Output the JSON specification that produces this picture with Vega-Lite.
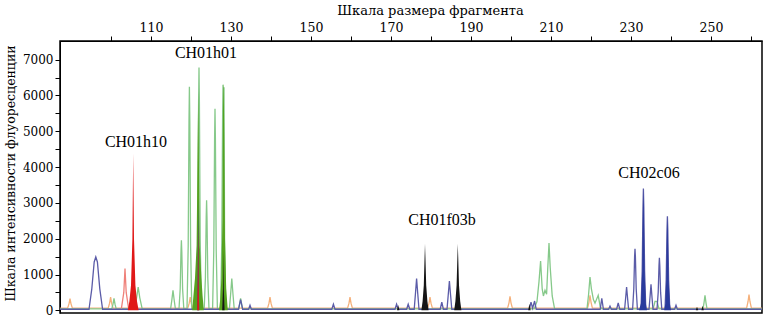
{
  "$schema": "https://vega.github.io/schema/vega-lite/v6.json",
  "width": 702,
  "height": 272,
  "autosize": {"type": "none"},
  "padding": {"left": 60, "top": 41, "right": 6, "bottom": 6},
  "background": "white",
  "config": {
    "view": {"stroke": "#000", "strokeWidth": 1.5},
    "axis": {"grid": false, "domainColor": "#000", "tickColor": "#000", "labelColor": "#000", "titleColor": "#000", "tickSize": 5}
  },
  "data": {"values": [
    {"d": "orange", "x": 87.3, "y": 60},
    {"d": "orange", "x": 89.15, "y": 60}, {"d": "orange", "x": 89.5, "y": 180}, {"d": "orange", "x": 89.75, "y": 325}, {"d": "orange", "x": 90.0, "y": 180}, {"d": "orange", "x": 90.35, "y": 60},
    {"d": "orange", "x": 99.3, "y": 60}, {"d": "orange", "x": 99.65, "y": 200}, {"d": "orange", "x": 99.9, "y": 370}, {"d": "orange", "x": 100.15, "y": 200}, {"d": "orange", "x": 100.5, "y": 60},
    {"d": "orange", "x": 119.2, "y": 60}, {"d": "orange", "x": 119.55, "y": 200}, {"d": "orange", "x": 119.8, "y": 370}, {"d": "orange", "x": 120.05, "y": 200}, {"d": "orange", "x": 120.4, "y": 60},
    {"d": "orange", "x": 139.15, "y": 60}, {"d": "orange", "x": 139.5, "y": 200}, {"d": "orange", "x": 139.75, "y": 370}, {"d": "orange", "x": 140.0, "y": 200}, {"d": "orange", "x": 140.35, "y": 60},
    {"d": "orange", "x": 159.15, "y": 60}, {"d": "orange", "x": 159.5, "y": 200}, {"d": "orange", "x": 159.75, "y": 370}, {"d": "orange", "x": 160.0, "y": 200}, {"d": "orange", "x": 160.35, "y": 60},
    {"d": "orange", "x": 179.15, "y": 60}, {"d": "orange", "x": 179.5, "y": 200}, {"d": "orange", "x": 179.75, "y": 370}, {"d": "orange", "x": 180.0, "y": 200}, {"d": "orange", "x": 180.35, "y": 60},
    {"d": "orange", "x": 199.15, "y": 60}, {"d": "orange", "x": 199.5, "y": 210}, {"d": "orange", "x": 199.75, "y": 390}, {"d": "orange", "x": 200.0, "y": 210}, {"d": "orange", "x": 200.35, "y": 60},
    {"d": "orange", "x": 219.15, "y": 60}, {"d": "orange", "x": 219.5, "y": 230}, {"d": "orange", "x": 219.75, "y": 420}, {"d": "orange", "x": 220.0, "y": 230}, {"d": "orange", "x": 220.35, "y": 60},
    {"d": "orange", "x": 258.9, "y": 60}, {"d": "orange", "x": 259.25, "y": 240}, {"d": "orange", "x": 259.5, "y": 440}, {"d": "orange", "x": 259.75, "y": 240}, {"d": "orange", "x": 260.1, "y": 60},
    {"d": "orange", "x": 262.7, "y": 60},

    {"d": "green", "x": 87.3, "y": 40},
    {"d": "green", "x": 100.2, "y": 40}, {"d": "green", "x": 100.5, "y": 170}, {"d": "green", "x": 100.75, "y": 335}, {"d": "green", "x": 101.0, "y": 170}, {"d": "green", "x": 101.3, "y": 40},
    {"d": "green", "x": 105.9, "y": 40}, {"d": "green", "x": 106.4, "y": 350}, {"d": "green", "x": 106.8, "y": 650}, {"d": "green", "x": 107.2, "y": 350}, {"d": "green", "x": 107.8, "y": 40},
    {"d": "green", "x": 114.9, "y": 40}, {"d": "green", "x": 115.2, "y": 280}, {"d": "green", "x": 115.5, "y": 560}, {"d": "green", "x": 115.8, "y": 280}, {"d": "green", "x": 116.1, "y": 40},
    {"d": "green", "x": 117.0, "y": 40}, {"d": "green", "x": 117.3, "y": 600}, {"d": "green", "x": 117.5, "y": 1650}, {"d": "green", "x": 117.6, "y": 1955}, {"d": "green", "x": 117.7, "y": 1650}, {"d": "green", "x": 117.9, "y": 600}, {"d": "green", "x": 118.2, "y": 40},
    {"d": "green", "x": 119.0, "y": 40}, {"d": "green", "x": 119.3, "y": 1800}, {"d": "green", "x": 119.5, "y": 5300}, {"d": "green", "x": 119.6, "y": 6240}, {"d": "green", "x": 119.7, "y": 5300}, {"d": "green", "x": 119.9, "y": 1800}, {"d": "green", "x": 120.2, "y": 40},
    {"d": "green", "x": 121.4, "y": 40}, {"d": "green", "x": 121.7, "y": 1950}, {"d": "green", "x": 121.9, "y": 5800}, {"d": "green", "x": 122.0, "y": 6780}, {"d": "green", "x": 122.1, "y": 5800}, {"d": "green", "x": 122.3, "y": 1950}, {"d": "green", "x": 122.6, "y": 40},
    {"d": "green", "x": 123.3, "y": 40}, {"d": "green", "x": 123.6, "y": 900}, {"d": "green", "x": 123.8, "y": 2600}, {"d": "green", "x": 123.9, "y": 3070}, {"d": "green", "x": 124.0, "y": 2600}, {"d": "green", "x": 124.2, "y": 900}, {"d": "green", "x": 124.5, "y": 40},
    {"d": "green", "x": 125.4, "y": 40}, {"d": "green", "x": 125.7, "y": 1700}, {"d": "green", "x": 125.9, "y": 4800}, {"d": "green", "x": 126.0, "y": 5630}, {"d": "green", "x": 126.1, "y": 4800}, {"d": "green", "x": 126.3, "y": 1700}, {"d": "green", "x": 126.6, "y": 40},
    {"d": "green", "x": 127.4, "y": 40}, {"d": "green", "x": 127.7, "y": 1900}, {"d": "green", "x": 127.9, "y": 5400}, {"d": "green", "x": 128.0, "y": 6300}, {"d": "green", "x": 128.15, "y": 5600}, {"d": "green", "x": 128.25, "y": 6230}, {"d": "green", "x": 128.4, "y": 1900}, {"d": "green", "x": 128.7, "y": 40},
    {"d": "green", "x": 129.6, "y": 40}, {"d": "green", "x": 129.9, "y": 440}, {"d": "green", "x": 130.2, "y": 885}, {"d": "green", "x": 130.5, "y": 440}, {"d": "green", "x": 130.8, "y": 40},
    {"d": "green", "x": 131.9, "y": 40}, {"d": "green", "x": 132.15, "y": 170}, {"d": "green", "x": 132.4, "y": 335}, {"d": "green", "x": 132.65, "y": 170}, {"d": "green", "x": 132.9, "y": 40},
    {"d": "green", "x": 205.8, "y": 40}, {"d": "green", "x": 206.5, "y": 250}, {"d": "green", "x": 207.0, "y": 800}, {"d": "green", "x": 207.4, "y": 1375}, {"d": "green", "x": 207.8, "y": 600}, {"d": "green", "x": 208.1, "y": 400}, {"d": "green", "x": 208.5, "y": 560}, {"d": "green", "x": 208.9, "y": 450}, {"d": "green", "x": 209.2, "y": 1200}, {"d": "green", "x": 209.5, "y": 1880}, {"d": "green", "x": 209.8, "y": 1200}, {"d": "green", "x": 210.3, "y": 400}, {"d": "green", "x": 210.9, "y": 40},
    {"d": "green", "x": 219.0, "y": 40}, {"d": "green", "x": 219.4, "y": 450}, {"d": "green", "x": 219.75, "y": 930}, {"d": "green", "x": 220.1, "y": 600}, {"d": "green", "x": 220.6, "y": 300}, {"d": "green", "x": 221.0, "y": 200}, {"d": "green", "x": 221.8, "y": 420}, {"d": "green", "x": 222.3, "y": 100}, {"d": "green", "x": 222.7, "y": 40},
    {"d": "green", "x": 235.5, "y": 40}, {"d": "green", "x": 235.8, "y": 150}, {"d": "green", "x": 236.0, "y": 250}, {"d": "green", "x": 236.5, "y": 250}, {"d": "green", "x": 237.0, "y": 40},
    {"d": "green", "x": 248.0, "y": 40}, {"d": "green", "x": 248.25, "y": 210}, {"d": "green", "x": 248.5, "y": 420}, {"d": "green", "x": 248.75, "y": 210}, {"d": "green", "x": 249.0, "y": 40},
    {"d": "green", "x": 262.7, "y": 40},

    {"d": "blue", "x": 87.3, "y": 30},
    {"d": "blue", "x": 94.5, "y": 30}, {"d": "blue", "x": 95.2, "y": 600}, {"d": "blue", "x": 95.8, "y": 1350}, {"d": "blue", "x": 96.2, "y": 1490}, {"d": "blue", "x": 96.6, "y": 1350}, {"d": "blue", "x": 97.2, "y": 600}, {"d": "blue", "x": 97.9, "y": 30},
    {"d": "blue", "x": 131.9, "y": 30}, {"d": "blue", "x": 132.15, "y": 170}, {"d": "blue", "x": 132.4, "y": 300}, {"d": "blue", "x": 132.65, "y": 170}, {"d": "blue", "x": 132.9, "y": 30},
    {"d": "blue", "x": 134.4, "y": 30}, {"d": "blue", "x": 134.75, "y": 140}, {"d": "blue", "x": 135.1, "y": 30},
    {"d": "blue", "x": 155.2, "y": 30}, {"d": "blue", "x": 155.6, "y": 170}, {"d": "blue", "x": 156.0, "y": 30},
    {"d": "blue", "x": 171.0, "y": 30}, {"d": "blue", "x": 171.4, "y": 170}, {"d": "blue", "x": 171.8, "y": 30},
    {"d": "blue", "x": 173.9, "y": 30}, {"d": "blue", "x": 174.3, "y": 170}, {"d": "blue", "x": 174.7, "y": 30},
    {"d": "blue", "x": 175.8, "y": 30}, {"d": "blue", "x": 176.1, "y": 450}, {"d": "blue", "x": 176.4, "y": 885}, {"d": "blue", "x": 176.7, "y": 450}, {"d": "blue", "x": 177.0, "y": 30},
    {"d": "blue", "x": 182.3, "y": 30}, {"d": "blue", "x": 182.7, "y": 230}, {"d": "blue", "x": 183.1, "y": 30},
    {"d": "blue", "x": 184.0, "y": 30}, {"d": "blue", "x": 184.3, "y": 420}, {"d": "blue", "x": 184.6, "y": 820}, {"d": "blue", "x": 184.9, "y": 420}, {"d": "blue", "x": 185.2, "y": 30},
    {"d": "blue", "x": 204.6, "y": 30}, {"d": "blue", "x": 205.0, "y": 230}, {"d": "blue", "x": 205.4, "y": 60}, {"d": "blue", "x": 205.9, "y": 260}, {"d": "blue", "x": 206.3, "y": 30},
    {"d": "blue", "x": 222.3, "y": 30}, {"d": "blue", "x": 222.7, "y": 335}, {"d": "blue", "x": 223.1, "y": 30},
    {"d": "blue", "x": 224.4, "y": 30}, {"d": "blue", "x": 224.75, "y": 120}, {"d": "blue", "x": 225.1, "y": 30},
    {"d": "blue", "x": 226.4, "y": 30}, {"d": "blue", "x": 226.8, "y": 205}, {"d": "blue", "x": 227.2, "y": 30},
    {"d": "blue", "x": 228.4, "y": 30}, {"d": "blue", "x": 228.65, "y": 330}, {"d": "blue", "x": 228.9, "y": 650}, {"d": "blue", "x": 229.15, "y": 330}, {"d": "blue", "x": 229.4, "y": 30},
    {"d": "blue", "x": 230.4, "y": 30}, {"d": "blue", "x": 230.7, "y": 600}, {"d": "blue", "x": 230.9, "y": 1500}, {"d": "blue", "x": 231.0, "y": 1720}, {"d": "blue", "x": 231.1, "y": 1500}, {"d": "blue", "x": 231.3, "y": 600}, {"d": "blue", "x": 231.6, "y": 30},
    {"d": "blue", "x": 232.5, "y": 30}, {"d": "blue", "x": 232.8, "y": 1100}, {"d": "blue", "x": 233.0, "y": 2900}, {"d": "blue", "x": 233.1, "y": 3400}, {"d": "blue", "x": 233.2, "y": 2900}, {"d": "blue", "x": 233.4, "y": 1100}, {"d": "blue", "x": 233.7, "y": 30},
    {"d": "blue", "x": 234.5, "y": 30}, {"d": "blue", "x": 234.75, "y": 360}, {"d": "blue", "x": 235.0, "y": 725}, {"d": "blue", "x": 235.25, "y": 360}, {"d": "blue", "x": 235.5, "y": 30},
    {"d": "blue", "x": 236.5, "y": 30}, {"d": "blue", "x": 236.8, "y": 500}, {"d": "blue", "x": 237.0, "y": 1250}, {"d": "blue", "x": 237.1, "y": 1470}, {"d": "blue", "x": 237.2, "y": 1250}, {"d": "blue", "x": 237.4, "y": 500}, {"d": "blue", "x": 237.7, "y": 30},
    {"d": "blue", "x": 238.5, "y": 30}, {"d": "blue", "x": 238.8, "y": 850}, {"d": "blue", "x": 239.0, "y": 2250}, {"d": "blue", "x": 239.1, "y": 2625}, {"d": "blue", "x": 239.2, "y": 2250}, {"d": "blue", "x": 239.4, "y": 850}, {"d": "blue", "x": 239.7, "y": 30},
    {"d": "blue", "x": 240.9, "y": 30}, {"d": "blue", "x": 241.25, "y": 140}, {"d": "blue", "x": 241.6, "y": 30},
    {"d": "blue", "x": 262.7, "y": 30},

    {"d": "salmon", "x": 102.6, "y": 50}, {"d": "salmon", "x": 103.2, "y": 500}, {"d": "salmon", "x": 103.5, "y": 1165}, {"d": "salmon", "x": 103.8, "y": 500}, {"d": "salmon", "x": 104.4, "y": 50},

    {"d": "dkgreen", "x": 120.3, "y": 0}, {"d": "dkgreen", "x": 120.6, "y": 400}, {"d": "dkgreen", "x": 121.0, "y": 900}, {"d": "dkgreen", "x": 121.4, "y": 1800}, {"d": "dkgreen", "x": 121.65, "y": 4500}, {"d": "dkgreen", "x": 121.8, "y": 6100}, {"d": "dkgreen", "x": 121.95, "y": 4500}, {"d": "dkgreen", "x": 122.2, "y": 1800}, {"d": "dkgreen", "x": 122.6, "y": 900}, {"d": "dkgreen", "x": 122.9, "y": 400}, {"d": "dkgreen", "x": 123.2, "y": 0},
    {"d": "dkgreen", "x": 127.0, "y": 0}, {"d": "dkgreen", "x": 127.3, "y": 300}, {"d": "dkgreen", "x": 127.6, "y": 900}, {"d": "dkgreen", "x": 127.85, "y": 2500}, {"d": "dkgreen", "x": 128.0, "y": 5600}, {"d": "dkgreen", "x": 128.1, "y": 6330}, {"d": "dkgreen", "x": 128.2, "y": 6200}, {"d": "dkgreen", "x": 128.3, "y": 5000}, {"d": "dkgreen", "x": 128.5, "y": 2000}, {"d": "dkgreen", "x": 128.8, "y": 600}, {"d": "dkgreen", "x": 129.2, "y": 0},

    {"d": "dkblue", "x": 121.55, "y": 0}, {"d": "dkblue", "x": 121.7, "y": 1200}, {"d": "dkblue", "x": 121.8, "y": 3130}, {"d": "dkblue", "x": 121.9, "y": 1200}, {"d": "dkblue", "x": 122.05, "y": 0},
    {"d": "dkblue", "x": 232.0, "y": 0}, {"d": "dkblue", "x": 232.5, "y": 200}, {"d": "dkblue", "x": 232.8, "y": 1100}, {"d": "dkblue", "x": 233.0, "y": 2900}, {"d": "dkblue", "x": 233.1, "y": 3400}, {"d": "dkblue", "x": 233.2, "y": 2900}, {"d": "dkblue", "x": 233.4, "y": 1100}, {"d": "dkblue", "x": 233.7, "y": 200}, {"d": "dkblue", "x": 234.0, "y": 0},
    {"d": "dkblue", "x": 238.3, "y": 0}, {"d": "dkblue", "x": 238.6, "y": 200}, {"d": "dkblue", "x": 238.8, "y": 850}, {"d": "dkblue", "x": 239.0, "y": 2250}, {"d": "dkblue", "x": 239.1, "y": 2625}, {"d": "dkblue", "x": 239.2, "y": 2250}, {"d": "dkblue", "x": 239.4, "y": 850}, {"d": "dkblue", "x": 239.7, "y": 200}, {"d": "dkblue", "x": 240.0, "y": 0},

    {"d": "red", "x": 104.2, "y": 0}, {"d": "red", "x": 104.6, "y": 250}, {"d": "red", "x": 105.0, "y": 700}, {"d": "red", "x": 105.35, "y": 2000}, {"d": "red", "x": 105.55, "y": 4380}, {"d": "red", "x": 105.75, "y": 2000}, {"d": "red", "x": 106.1, "y": 700}, {"d": "red", "x": 106.5, "y": 250}, {"d": "red", "x": 106.9, "y": 0},
    {"d": "red", "x": 121.55, "y": 0}, {"d": "red", "x": 121.7, "y": 900}, {"d": "red", "x": 121.8, "y": 2400}, {"d": "red", "x": 121.9, "y": 900}, {"d": "red", "x": 122.05, "y": 0},

    {"d": "black", "x": 127.8, "y": 0}, {"d": "black", "x": 128.0, "y": 600}, {"d": "black", "x": 128.1, "y": 1680}, {"d": "black", "x": 128.2, "y": 600}, {"d": "black", "x": 128.4, "y": 0},
    {"d": "black", "x": 171.5, "y": 0}, {"d": "black", "x": 171.8, "y": 150}, {"d": "black", "x": 172.1, "y": 0},
    {"d": "black", "x": 177.6, "y": 0}, {"d": "black", "x": 177.9, "y": 250}, {"d": "black", "x": 178.2, "y": 700}, {"d": "black", "x": 178.4, "y": 1500}, {"d": "black", "x": 178.5, "y": 1860}, {"d": "black", "x": 178.6, "y": 1500}, {"d": "black", "x": 178.8, "y": 700}, {"d": "black", "x": 179.1, "y": 250}, {"d": "black", "x": 179.4, "y": 0},
    {"d": "black", "x": 185.8, "y": 0}, {"d": "black", "x": 186.1, "y": 250}, {"d": "black", "x": 186.4, "y": 700}, {"d": "black", "x": 186.6, "y": 1500}, {"d": "black", "x": 186.7, "y": 1860}, {"d": "black", "x": 186.8, "y": 1500}, {"d": "black", "x": 187.0, "y": 700}, {"d": "black", "x": 187.3, "y": 250}, {"d": "black", "x": 187.6, "y": 0},
    {"d": "black", "x": 204.3, "y": 0}, {"d": "black", "x": 204.6, "y": 180}, {"d": "black", "x": 204.9, "y": 0},
    {"d": "black", "x": 246.2, "y": 0}, {"d": "black", "x": 246.5, "y": 100}, {"d": "black", "x": 246.8, "y": 0},
    {"d": "black", "x": 247.6, "y": 0}, {"d": "black", "x": 247.9, "y": 130}, {"d": "black", "x": 248.2, "y": 0}
  ]},
  "encoding": {
    "x": {"field": "x", "type": "quantitative",
      "scale": {"domain": [87.25, 262.75], "nice": false, "zero": false},
      "axis": {"orient": "top", "title": "Шкала размера фрагмента", "values": [100, 110, 120, 130, 140, 150, 160, 170, 180, 190, 200, 210, 220, 230, 240, 250, 260], "labelExpr": "datum.value % 20 == 10 ? datum.label : ''", "labelPadding": 2, "titleX": 370, "titleY": -31, "titleAlign": "center", "titleBaseline": "middle", "labelFlush": false, "labelOverlap": false, "labelFont": "DejaVu Serif", "titleFont": "DejaVu Serif", "labelFontSize": 12.5, "titleFontSize": 13, "titleFontWeight": "normal"}},
    "y": {"field": "y", "type": "quantitative", "stack": null,
      "scale": {"domain": [-75, 7520], "nice": false, "zero": false},
      "axis": {"title": "Шкала интенсивности флуоресценции", "values": [0, 500, 1000, 1500, 2000, 2500, 3000, 3500, 4000, 4500, 5000, 5500, 6000, 6500, 7000], "labelExpr": "datum.value % 1000 == 0 ? datum.label : ''", "format": "d", "labelPadding": 2, "titleX": -50, "titleY": 132, "titleAlign": "center", "titleBaseline": "middle", "titleAngle": -90, "labelOverlap": false, "labelFont": "DejaVu Serif", "titleFont": "DejaVu Serif", "labelFontSize": 12, "titleFontSize": 12.5, "titleFontWeight": "normal"}},
    "color": {"field": "d", "type": "nominal", "legend": null,
      "scale": {"domain": ["orange", "green", "blue", "salmon", "dkgreen", "dkblue", "red", "black"],
                "range": ["#f5b07a", "#86c98a", "#5b5ca8", "#ef8079", "#55a21f", "#2a3b9d", "#e01818", "#151515"]}}
  },
  "layer": [
    {"transform": [{"filter": "indexof(['orange','green','blue','salmon'], datum.d) >= 0"}],
     "mark": {"type": "line", "strokeWidth": 1.3, "clip": true}},
    {"transform": [{"filter": "datum.d == 'dkgreen'"}], "mark": {"type": "area", "clip": true}},
    {"transform": [{"filter": "datum.d == 'dkblue'"}], "mark": {"type": "area", "clip": true}},
    {"transform": [{"filter": "datum.d == 'red'"}], "mark": {"type": "area", "clip": true}},
    {"transform": [{"filter": "datum.d == 'black'"}], "mark": {"type": "area", "clip": true}},
    {"data": {"values": [
      {"label": "CH01h10", "x": 106.25, "y": 4690},
      {"label": "CH01h01", "x": 123.75, "y": 7180},
      {"label": "CH01f03b", "x": 182.75, "y": 2510},
      {"label": "CH02c06", "x": 234.5, "y": 3830}
    ]},
     "mark": {"type": "text", "font": "Liberation Serif", "fontSize": 16, "baseline": "middle", "align": "center"},
     "encoding": {"text": {"field": "label"}, "color": {"value": "#000"}}}
  ]
}
